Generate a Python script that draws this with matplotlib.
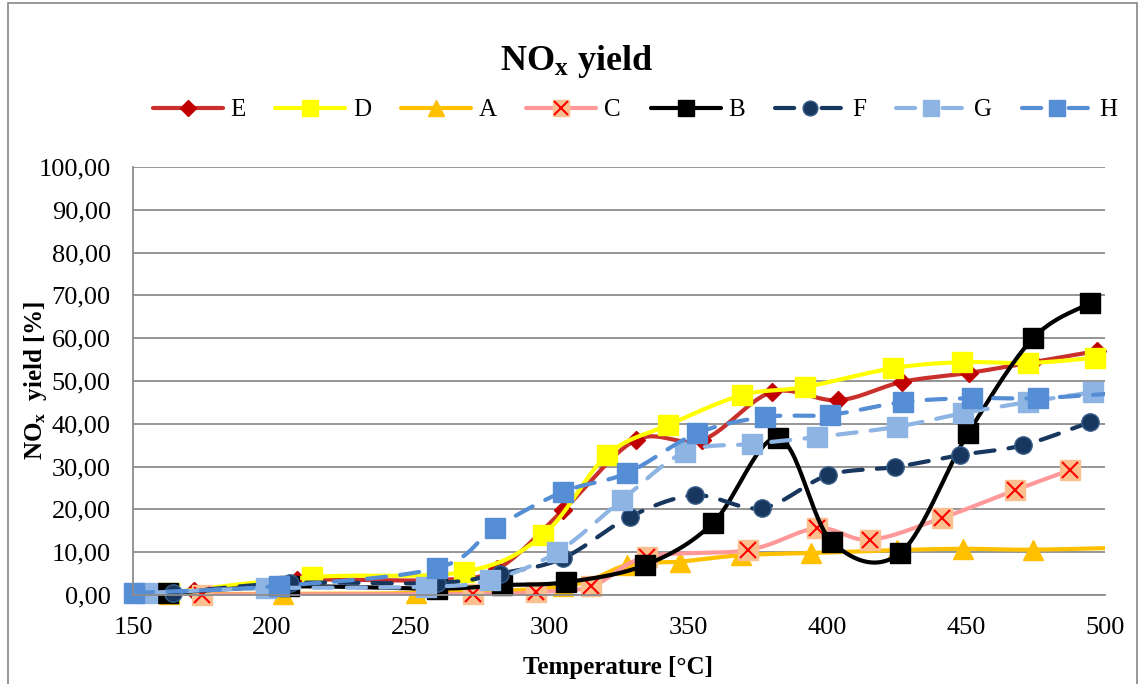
import numpy as np
import matplotlib
matplotlib.use("Agg")
import matplotlib.pyplot as plt
from matplotlib.lines import Line2D
from matplotlib.legend_handler import HandlerTuple
from matplotlib.patches import Rectangle
from matplotlib.ticker import FuncFormatter, MultipleLocator

plt.rcParams['font.family'] = ['Liberation Serif', 'DejaVu Serif']
plt.rcParams['mathtext.fontset'] = 'custom'
plt.rcParams['mathtext.rm'] = 'Liberation Serif'
plt.rcParams['mathtext.it'] = 'Liberation Serif:italic'
plt.rcParams['mathtext.bf'] = 'Liberation Serif:bold'

# data (temperature in degC, yield in %)
E_t = [172, 209, 258, 281, 305, 331, 355, 380, 404, 427, 451, 474, 497]
E_y = [1.0, 3.5, 3.5, 6.0, 19.9, 36.2, 36.2, 47.4, 45.5, 49.8, 51.9, 54.4, 57.0]

D_t = [163, 214.5, 269, 297.6, 320.7, 342.7, 369.3, 392, 423.7, 448.5, 472.3, 496.4]
D_y = [0.5, 4.2, 5.4, 14.0, 32.7, 39.7, 46.7, 48.6, 53.0, 54.4, 54.2, 55.4]

A_t = [163, 204, 252, 305, 328, 347, 369, 394, 425, 449, 474, 515]
A_y = [0.2, 0.3, 0.5, 2.0, 7.0, 7.8, 9.3, 9.8, 10.5, 10.8, 10.6, 11.2]

C_t = [175, 272.5, 295, 315, 335, 371.5, 396.3, 415.4, 441.3, 467.6, 487.4]
C_y = [0.1, 0.2, 0.7, 2.0, 8.9, 10.5, 15.6, 12.9, 18.0, 24.5, 29.2]

B_t = [162.6, 206, 259.5, 283, 306, 334.4, 358.8, 382.3, 401.7, 426.2, 450.7, 474.1, 494.6]
B_y = [0.5, 2.0, 1.5, 2.3, 3.0, 7.0, 16.8, 36.7, 12.4, 9.8, 37.8, 60.0, 68.2]

F_t = [164.4, 206.6, 259.5, 282, 304.8, 329, 352.4, 376.5, 400.3, 424.4, 447.8, 470.5, 494.6]
F_y = [0.5, 2.8, 2.8, 5.0, 8.6, 18.3, 23.3, 20.3, 28.0, 29.9, 32.7, 35.0, 40.4]

G_t = [155, 198, 255.5, 278.6, 302.7, 326, 348.8, 373, 396.3, 425, 448.9, 472.3, 495.7]
G_y = [0.5, 1.6, 1.9, 3.5, 10.0, 22.2, 33.4, 35.3, 36.9, 39.3, 42.5, 45.1, 47.4]

H_t = [150.4, 202.6, 259.5, 280.4, 304.8, 327.9, 353.1, 377.6, 401, 427.3, 452, 475.9, 512]
H_y = [0.5, 2.1, 6.3, 15.7, 24.1, 28.5, 37.8, 41.6, 42.1, 45.1, 46.0, 46.0, 47.5]


def smooth(x, y, n=30):
    # excel-like smoothed line: cubic bezier with catmull-rom control points
    p = np.column_stack([x, y]).astype(float)
    pts = [p[0]]
    t = np.linspace(0, 1, n)[1:, None]
    for i in range(len(p) - 1):
        p0 = p[max(i - 1, 0)]
        p1 = p[i]
        p2 = p[i + 1]
        p3 = p[min(i + 2, len(p) - 1)]
        c1 = p1 + (p2 - p0) / 6
        c2 = p2 - (p3 - p1) / 6
        seg = (1 - t) ** 3 * p1 + 3 * (1 - t) ** 2 * t * c1 + 3 * (1 - t) * t ** 2 * c2 + t ** 3 * p2
        pts.extend(seg)
    pts = np.array(pts)
    return pts[:, 0], pts[:, 1]


fig = plt.figure(figsize=(11.42, 6.84), dpi=100)
ax = fig.add_axes([0.1165, 0.1301, 0.8511, 0.6257])

dash = (4.6, 3.4)
series = [
    # name, t, y, line colour, linestyle, marker, marker face, marker edge, size
    ("E", E_t, E_y, "#C9302C", "-", "D", "#C00000", "#C00000", 9.5),
    ("D", D_t, D_y, "#FFFF00", "-", "s", "#FFFF00", "#FFFF00", 14),
    ("A", A_t, A_y, "#FFC000", "-", "^", "#FFC000", "#FFC000", 14),
    ("C", C_t, C_y, "#FF9999", "-", "s", "#FAC090", "#FAC090", 14),
    ("B", B_t, B_y, "#000000", "-", "s", "#000000", "#000000", 14),
    ("F", F_t, F_y, "#17375E", "--", "o", "#17375E", "#385D8A", 12.5),
    ("G", G_t, G_y, "#8DB4E2", "--", "s", "#8DB4E2", "#8DB4E2", 14),
    ("H", H_t, H_y, "#558ED5", "--", "s", "#558ED5", "#558ED5", 14),
]

handles = []
for name, t, y, lc, ls, mk, mf, me, ms in series:
    sx, sy = smooth(t, y)
    line, = ax.plot(sx, sy, color=lc, lw=3, solid_capstyle="round",
                    dash_capstyle="round")
    if ls == "--":
        line.set_dashes(dash)
    t_arr = np.array(t)
    y_arr = np.array(y)
    keep = t_arr <= 500
    ax.plot(t_arr[keep], y_arr[keep], ls="none", marker=mk, ms=ms,
            mfc=mf, mec=me, mew=1, clip_on=False)
    h = Line2D([], [], color=lc, lw=3, marker=mk, ms=ms * 0.85, mfc=mf, mec=me,
               solid_capstyle="round", dash_capstyle="round")
    if ls == "--":
        h.set_dashes((4.6, 6.6))
    if name == "C":
        ax.plot(t_arr[keep], y_arr[keep], ls="none", marker="x", ms=11,
                mec="#FF0000", mew=1.5, clip_on=False)
        hx = Line2D([], [], ls="none", marker="x", ms=10, mec="#FF0000", mew=1.5)
        h = (h, hx)
    handles.append(h)

ax.set_xlim(150, 500)
ax.set_ylim(0, 100)
ax.xaxis.set_major_locator(MultipleLocator(50))
ax.yaxis.set_major_locator(MultipleLocator(10))
ax.yaxis.set_major_formatter(FuncFormatter(lambda v, p: f"{v:.2f}".replace(".", ",")))
ax.grid(axis="y", color="#8C8C8C", lw=1.3)
ax.set_axisbelow(True)
for s in ["top", "right"]:
    ax.spines[s].set_visible(False)
for s in ["left", "bottom"]:
    ax.spines[s].set_color("#8C8C8C")
    ax.spines[s].set_linewidth(1.3)
ax.tick_params(length=0, labelsize=19)
ax.tick_params(axis="y", pad=16)
ax.tick_params(axis="x", pad=16)

fig.text(0.505, 0.910, r"NO$_{\mathbf{x}}$ yield", ha="center", va="center",
         fontsize=26, fontweight="bold")
fig.text(0.541, 0.024, "Temperature [°C]", ha="center", va="center",
         fontsize=18, fontweight="bold")
fig.text(0.031, 0.444, r"NO$_{\mathbf{x}}$  yield [%]", ha="center", va="center",
         rotation=90, fontsize=18, fontweight="bold")

fig.legend(handles, [s[0] for s in series], ncol=8, loc="center",
           bbox_to_anchor=(0.556, 0.839), frameon=False, fontsize=18,
           handlelength=2.8, handletextpad=0.3, columnspacing=1.2,
           handler_map={tuple: HandlerTuple(ndivide=1)})

fig.add_artist(Rectangle((8 / 1142, -0.01), 1129 / 1142, 1.0 - 3 / 684 + 0.01,
                         transform=fig.transFigure, fill=False,
                         edgecolor="#868686", lw=1.2))

fig.savefig("out.png", dpi=100)
